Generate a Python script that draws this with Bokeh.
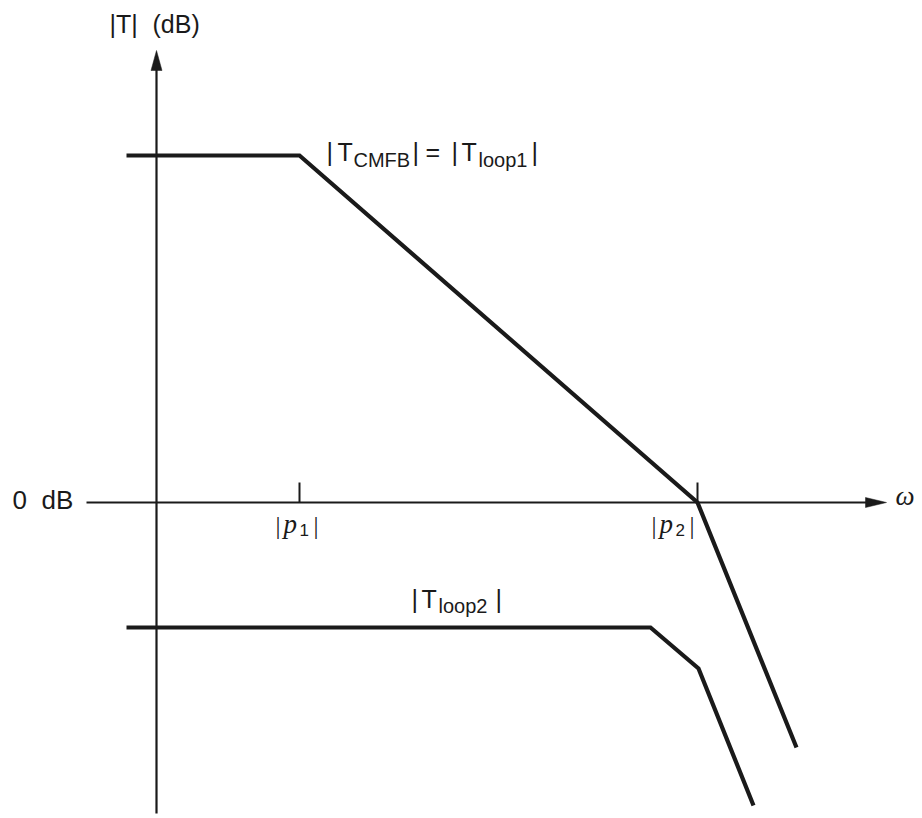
from bokeh.plotting import figure
from bokeh.models import Range1d, ColumnDataSource
from bokeh.embed import file_html
from bokeh.resources import INLINE

# ---- data (omega: log-frequency units measured from the |T| axis; magnitude in dB units) ----
omega_cmfb = [-30, 143, 541, 640]
t_cmfb_db = [347, 347, 0, -245]
omega_loop2 = [-30, 494, 542, 597]
t_loop2_db = [-125, -125, -166, -303]
tick_omega = [143, 541]
tick_var = ["p", "p"]
tick_sub = ["1", "2"]

INK = "#1a1a1a"
SANS = "Liberation Sans"
SERIF = "Liberation Serif"

p = figure(width=920, height=816, x_range=Range1d(-156, 764), y_range=Range1d(-314, 502),
           output_backend="svg", toolbar_location=None, min_border=0,
           x_axis_location=None, y_axis_location=None)
p.grid.visible = False
p.outline_line_color = None
p.background_fill_color = "white"

# axes (drawn as arrows)
x_axis_end = 730
y_axis_end = 452
p.segment(x0=[-70, 0], y0=[0, -311], x1=[x_axis_end - 18, 0], y1=[0, y_axis_end - 18],
          line_color=INK, line_width=2.2)
p.patches(xs=[[x_axis_end, x_axis_end - 21, x_axis_end - 21], [0, -5.5, 5.5]],
          ys=[[0, 5, -5], [y_axis_end, y_axis_end - 20, y_axis_end - 20]],
          fill_color=INK, line_color=INK, line_width=0.5)

# ticks at the pole frequencies
p.segment(x0=tick_omega, y0=[0] * len(tick_omega), x1=tick_omega, y1=[20] * len(tick_omega),
          line_color=INK, line_width=2)

# magnitude curves
p.line(omega_cmfb, t_cmfb_db, line_color=INK, line_width=4.2, line_join="miter")
p.line(omega_loop2, t_loop2_db, line_color=INK, line_width=4.2, line_join="miter")

# ---- text ----
rows = []  # x, y, text, size, font, style, align


def add(x, y, t, size, font=SANS, style="normal", align="left"):
    rows.append((x, y, t, size, font, style, align))


B = 12   # baseline correction for large text
S = 10   # baseline correction for subscripts

# y-axis title
add(-47, 467 + B, "|T|", "25px")
add(-4, 467 + B, "(dB)", "25px")
# 0 dB
add(-144, -9 + B, "0", "26px")
add(-115, -9 + B, "dB", "26px")
# omega
add(739, -5 + B, "\u03c9", "27px", SERIF, "italic")

# |T_CMFB| = |T_loop1|
add(170, 339 + B, "|", "25px")
add(181, 339 + B, "T", "25px")
add(197, 333 + S, "CMFB", "20px")
add(256, 339 + B, "|", "25px")
add(269, 339 + B, "=", "25px")
add(295, 339 + B, "|", "25px")
add(305, 339 + B, "T", "25px")
add(322, 333 + S, "loop1", "20px")
add(375, 339 + B, "|", "25px")

# |T_loop2|
add(255, -108 + B, "|", "25px")
add(265, -108 + B, "T", "25px")
add(282, -113 + S, "loop2", "20px")
add(339, -108 + B, "|", "25px")

# |p1|, |p2| labels under the ticks
label_shift = [-1, -23]
for w, v, s, sh in zip(tick_omega, tick_var, tick_sub, label_shift):
    c = w + sh
    add(c - 23, -35 + B, "|", "25px", SERIF)
    add(c - 15, -33 + B, v, "27px", SERIF, "italic")
    add(c + 1, -37 + S, s, "17px")
    add(c + 15, -35 + B, "|", "25px", SERIF)

src = ColumnDataSource(dict(
    x=[r[0] for r in rows], y=[r[1] for r in rows], text=[r[2] for r in rows],
    size=[r[3] for r in rows], font=[r[4] for r in rows], style=[r[5] for r in rows],
    align=[r[6] for r in rows]))
p.text(x="x", y="y", text="text", source=src, text_font_size="size", text_font="font",
       text_font_style="style", text_align="align", text_baseline="alphabetic", text_color=INK)

open("out.html", "w").write(file_html(p, INLINE))
